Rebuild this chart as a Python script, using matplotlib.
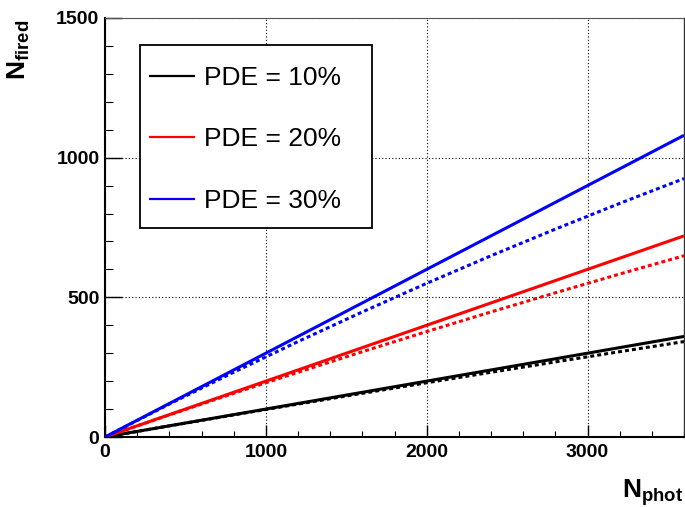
import matplotlib
matplotlib.use("Agg")
import matplotlib.pyplot as plt
from matplotlib.patches import Rectangle
from matplotlib.ticker import MultipleLocator

plt.rcParams['font.family'] = ['Liberation Sans', 'DejaVu Sans']
plt.rcParams['mathtext.fontset'] = 'custom'
plt.rcParams['mathtext.rm'] = 'Liberation Sans'
plt.rcParams['mathtext.bf'] = 'Liberation Sans:bold'

# ---- data ----
n_phot = [0, 400, 800, 1200, 1600, 2000, 2400, 2800, 3200, 3600]
labels = ["PDE = 10%", "PDE = 20%", "PDE = 30%"]
colors = ["#000000", "#ff0000", "#0000ff"]
# linear (solid) curves
lin_10 = [0, 40, 80, 120, 160, 200, 240, 280, 320, 360]
lin_20 = [0, 80, 160, 240, 320, 400, 480, 560, 640, 720]
lin_30 = [0, 120, 240, 360, 480, 600, 720, 840, 960, 1080]
# saturated (dotted) curves
sat_10 = [0, 39.8, 79.1, 117.9, 156.3, 194.2, 231.7, 268.8, 305.4, 341.6]
sat_20 = [0, 79.1, 156.3, 231.7, 305.4, 377.4, 447.7, 516.3, 583.4, 648.9]
sat_30 = [0, 117.9, 231.7, 341.6, 447.7, 550.1, 648.9, 744.2, 836.3, 925.2]

W, H = 685, 507
fig = plt.figure(figsize=(W / 100, H / 100), dpi=100)
L, R, T, B = 105, 684, 18, 437
ax = fig.add_axes([L / W, 1 - B / H, (R - L) / W, (B - T) / H])

lw = 2.2
for lin, sat, c, lab in zip([lin_10, lin_20, lin_30], [sat_10, sat_20, sat_30], colors, labels):
    ax.plot(n_phot, lin, color=c, lw=lw, solid_capstyle='butt', label=lab, zorder=3)
    ax.plot(n_phot, sat, color=c, lw=lw, linestyle=(0, (1.3, 1.0)),
            dash_capstyle='butt', zorder=3)

ax.set_xlim(0, 3600)
ax.set_ylim(0, 1500)
ax.xaxis.set_major_locator(MultipleLocator(1000))
ax.xaxis.set_minor_locator(MultipleLocator(200))
ax.yaxis.set_major_locator(MultipleLocator(500))
ax.yaxis.set_minor_locator(MultipleLocator(100))

ax.grid(True, which='major', color='black', linestyle=(0, (1, 2)), linewidth=0.8)
ax.set_axisbelow(True)

ax.tick_params(axis='x', which='major', direction='in', length=9, width=1.0,
               labelsize=14, pad=5)
ax.tick_params(axis='x', which='minor', direction='in', length=4.5, width=0.8)
ax.tick_params(axis='y', which='major', direction='in', length=12, width=1.0,
               labelsize=14, pad=4)
ax.tick_params(axis='y', which='minor', direction='in', length=6, width=0.8)
for lab in ax.get_xticklabels() + ax.get_yticklabels():
    lab.set_fontweight('bold')

ax.spines['left'].set_linewidth(1.5)
ax.spines['bottom'].set_linewidth(1.5)
ax.spines['top'].set_linewidth(0.8)
ax.spines['top'].set_color('#555555')
ax.spines['right'].set_linewidth(1.0)
ax.spines['right'].set_color('#333333')

# axis titles
fig.text(683 / W, 1 - 498 / H, r'$\mathbf{N}_{\mathbf{phot}}$', fontsize=19,
         ha='right', va='baseline')
fig.text(32 / W, 1 - 20 / H, r'$\mathbf{N}_{\mathbf{fired}}$', fontsize=19,
         rotation=90, ha='right', va='top')

# legend
box = Rectangle((140 / W, 1 - 228 / H), (372 - 140) / W, (228 - 45) / H,
                transform=fig.transFigure, facecolor='white', edgecolor='black',
                linewidth=1.3, zorder=5)
fig.patches.append(box)
leg = fig.legend(loc='upper left', bbox_to_anchor=(149 / W, 1 - 66 / H),
                 frameon=False, fontsize=19, handlelength=1.75, handletextpad=0.32,
                 labelspacing=1.42, borderpad=0, borderaxespad=0)
for h in leg.get_lines():
    h.set_linewidth(1.6)
leg.set_zorder(6)

fig.savefig("out.png", dpi=100)
